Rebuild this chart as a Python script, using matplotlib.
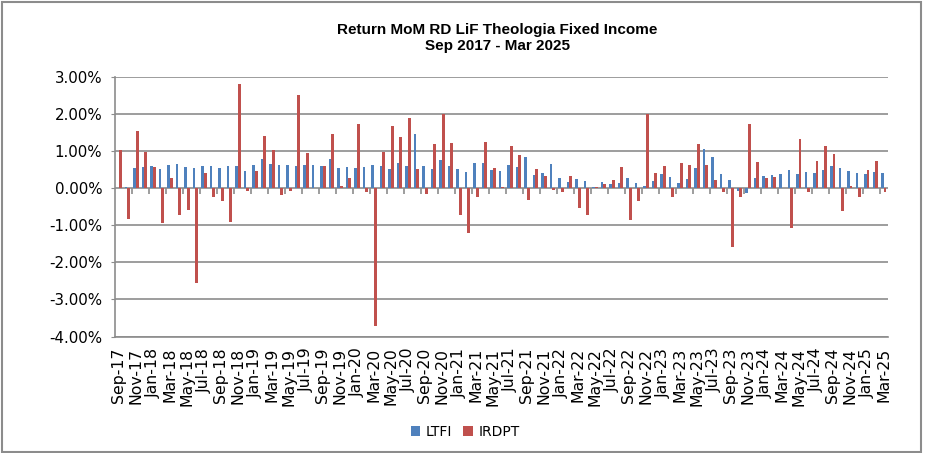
import numpy as np
import pandas as pd
import matplotlib
matplotlib.use("Agg")
import matplotlib.pyplot as plt
from matplotlib.patches import Rectangle
from matplotlib.ticker import FuncFormatter

# monthly returns in %, Sep-17 .. Mar-25
months = pd.date_range("2017-09-01", periods=91, freq="MS").strftime("%b-%y").tolist()

ltfi = [0.00, 0.04, 0.54, 0.57, 0.59, 0.51, 0.62, 0.65, 0.57, 0.54,
        0.59, 0.59, 0.54, 0.59, 0.59, 0.46, 0.62, 0.78, 0.65, 0.62,
        0.62, 0.59, 0.62, 0.62, 0.59, 0.78, 0.54, 0.57, 0.54, 0.57,
        0.62, 0.59, 0.51, 0.68, 0.59, 1.46, 0.59, 0.51, 0.76, 0.59,
        0.51, 0.43, 0.68, 0.68, 0.49, 0.46, 0.62, 0.57, 0.84, 0.35,
        0.41, 0.65, 0.27, 0.16, 0.24, 0.19, 0.03, 0.16, 0.11, 0.14,
        0.27, 0.14, 0.05, 0.19, 0.38, 0.30, 0.14, 0.24, 0.54, 1.05,
        0.84, 0.38, 0.22, -0.09, -0.14, 0.27, 0.32, 0.35, 0.38, 0.49,
        0.38, 0.43, 0.41, 0.49, 0.59, 0.54, 0.46, 0.41, 0.38, 0.43,
        0.41]

irdpt = [1.03, -0.84, 1.53, 0.97, 0.57, -0.95, 0.27, -0.73, -0.59, -2.57,
         0.41, -0.23, -0.36, -0.91, 2.79, -0.09, 0.46, 1.40, 1.03, -0.19,
         -0.09, 2.50, 0.95, 0.00, 0.59, 1.46, 0.05, 0.27, 1.72, -0.11,
         -3.72, 0.97, 1.67, 1.37, 1.88, 0.51, -0.16, 1.19, 2.00, 1.22,
         -0.73, -1.22, -0.25, 1.24, 0.54, 0.03, 1.14, 0.89, -0.33, 0.51,
         0.32, -0.05, -0.11, 0.32, -0.54, -0.73, 0.03, 0.11, 0.22, 0.57,
         -0.86, -0.35, 2.00, 0.41, 0.59, -0.23, 0.68, 0.62, 1.19, 0.62,
         0.22, -0.11, -1.60, -0.25, 1.72, 0.70, 0.27, 0.30, 0.00, -1.08,
         1.32, -0.11, 0.73, 1.14, 0.92, -0.62, 0.05, -0.25, 0.49, 0.73,
         -0.11]

blue = "#4F81BD"
red = "#C0504D"
grid = "#8C8C8C"

fig = plt.figure(figsize=(9.25, 4.53), dpi=100)
ax = fig.add_axes([0.124, 0.257, 0.836, 0.574])

x = np.arange(len(months))
w = 0.32
ax.bar(x - w / 2, ltfi, w, color=blue, label="LTFI", zorder=3)
ax.bar(x + w / 2, irdpt, w, color=red, label="IRDPT", zorder=3)

ax.set_xlim(-0.5, len(months) - 0.5)
ax.set_ylim(-4, 3)
ax.set_yticks(np.arange(-4, 3.5, 1))
ax.yaxis.set_major_formatter(FuncFormatter(lambda v, p: f"{v:.2f}%"))
ax.yaxis.grid(True, color=grid, linewidth=1.2, zorder=0)
ax.tick_params(axis="y", length=3, color=grid, labelsize=10.8, pad=6)

ax.set_xticks(x[::2])
ax.set_xticklabels(months[::2], rotation=90, fontsize=11.3)
ax.tick_params(axis="x", length=0, pad=8)

# tick marks on the zero line, every second category boundary
ax.vlines(np.arange(1.5, len(months), 2), -0.15, 0, color=grid, linewidth=1.2, zorder=2)

for s in ["top", "right"]:
    ax.spines[s].set_visible(False)
for s in ["left", "bottom"]:
    ax.spines[s].set_color(grid)
    ax.spines[s].set_linewidth(1.2)

fig.text(0.538, 0.916, "Return MoM RD LiF Theologia Fixed Income\nSep 2017 - Mar 2025",
         ha="center", va="center", fontsize=11, fontweight="bold",
         family="Liberation Sans", linespacing=1.25)

fig.legend(loc="center", bbox_to_anchor=(0.503, 0.046), ncol=2, frameon=False,
           fontsize=10, handlelength=0.7, handleheight=0.7, handletextpad=0.4,
           columnspacing=0.8)

fig.patches.append(Rectangle((0.002, 0.003), 0.994, 0.993, transform=fig.transFigure,
                             fill=False, edgecolor=grid, linewidth=1.5))

fig.savefig("out.png", dpi=100)
